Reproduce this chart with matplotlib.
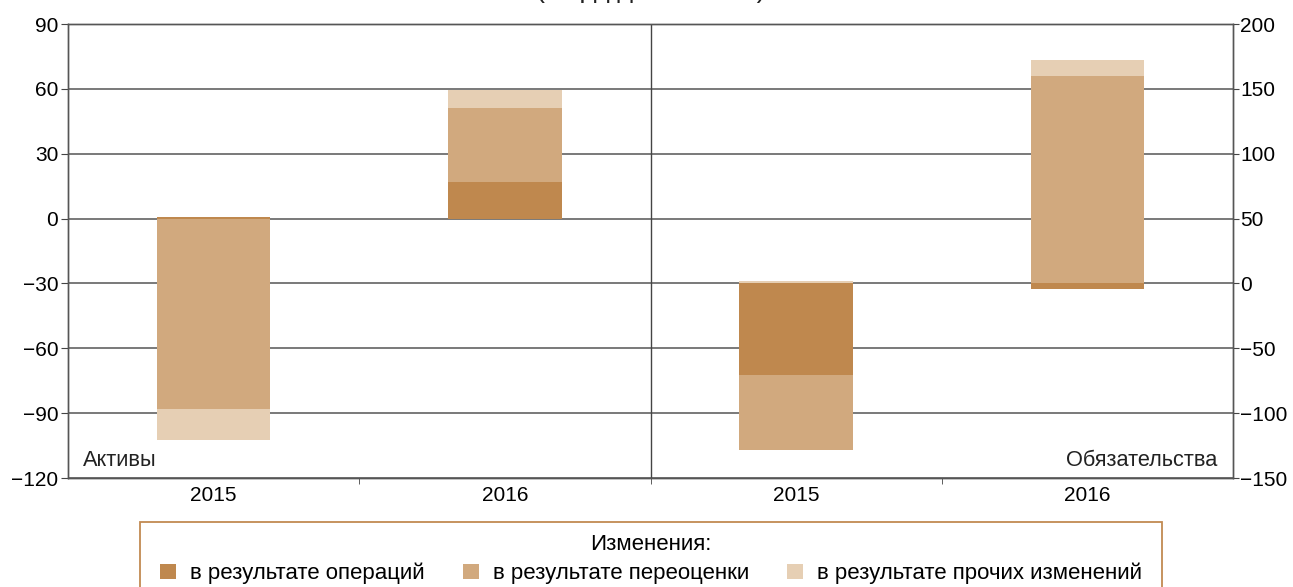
import matplotlib
matplotlib.use("Agg")
import matplotlib.pyplot as plt
from matplotlib.patches import Rectangle
import numpy as np

plt.rcParams['font.family'] = ['Liberation Sans', 'DejaVu Sans']

# Данные (млрд долл. США)
years = ["2015", "2016"]
aktivy_oper = [0.7, 16.9]
aktivy_pereoc = [-88.0, 34.3]
aktivy_proch = [-14.3, 8.2]

obyaz_oper = [-70.4, -4.1]
obyaz_pereoc = [-57.8, 159.9]
obyaz_proch = [1.5, 12.3]

labels = ["в результате операций", "в результате переоценки", "в результате прочих изменений"]
colors = ["#BF884E", "#D1A97E", "#E6CFB4"]


def stacked(ax, x, series, width):
    # положительные части вверх от нуля, отрицательные вниз
    pos = np.zeros(len(x))
    neg = np.zeros(len(x))
    for vals, col, lab in zip(series, colors, labels):
        vals = np.array(vals)
        bottom = np.where(vals >= 0, pos, neg)
        ax.bar(x, vals, width, bottom=bottom, color=col, label=lab, zorder=3)
        pos = pos + np.where(vals >= 0, vals, 0)
        neg = neg + np.where(vals < 0, vals, 0)


fig = plt.figure(figsize=(12.93, 5.87), dpi=100)
ax = fig.add_axes([68/1293, 1-478/587, (1233-68)/1293, (478-24)/587])
ax2 = ax.twinx()

bar_w = 0.39
stacked(ax, np.array([0, 1]), [aktivy_oper, aktivy_pereoc, aktivy_proch], bar_w)
stacked(ax2, np.array([2, 3]), [obyaz_oper, obyaz_pereoc, obyaz_proch], bar_w)

ax.set_xlim(-0.5, 3.5)
ax.set_ylim(-120, 90)
ax.set_yticks(np.arange(-120, 91, 30))
ax2.set_ylim(-150, 200)
ax2.set_yticks(np.arange(-150, 201, 50))

ax.set_xticks(np.arange(4))
ax.set_xticklabels(years + years)
ax.set_xticks([0.5, 1.5, 2.5], minor=True)
ax.tick_params(axis='x', which='major', length=0, labelsize=15, pad=6)
ax.tick_params(axis='x', which='minor', length=4, color='#444444')
ax.tick_params(axis='y', labelsize=15, length=5, color='#444444', pad=2)
ax2.tick_params(axis='y', labelsize=15, length=4, color='#444444', pad=1)

ax.grid(axis='y', color='#555555', linewidth=1.1, zorder=1)
ax.set_axisbelow(True)
ax.axvline(1.5, color='#444444', linewidth=1, zorder=2)

for a in (ax, ax2):
    for s in a.spines.values():
        s.set_color('#555555')
        s.set_linewidth(1)

ax.text(15/1165, 12/454, "Активы", transform=ax.transAxes, fontsize=15.7,
        ha='left', va='baseline', color='#222222')
ax2.text(1 - 16/1165, 12/454, "Обязательства", transform=ax2.transAxes, fontsize=15.7,
         ha='right', va='baseline', color='#222222')

# заголовок обрезан сверху, видна только нижняя кромка
fig.text(651/1293, 1.0 + 3/587, "(млрд долл. США)", fontsize=19.5, ha='center', va='baseline',
         color='#222222')

# легенда: рамка 140..1162 px, верх на 522 px
pad_px = 7.5
handles, labs = ax.get_legend_handles_labels()
leg = fig.legend(handles, labs, loc='upper left', ncol=3, mode='expand',
                 bbox_to_anchor=((140 + pad_px)/1293, 1-522/587, (1022 - 2*pad_px)/1293, 0),
                 borderaxespad=0,
                 title="Изменения:", title_fontsize=16, fontsize=16,
                 frameon=False,
                 handlelength=0.72, handleheight=0.72, handletextpad=0.64,
                 borderpad=0.55, labelspacing=0.4)
leg._legend_handle_box.pad = pad_px * 0.72
leg._legend_box.sep = 0

# рамка легенды (уходит за нижний край)
fig.patches.append(Rectangle((140/1293, -0.05), 1022/1293, 0.05 + 1 - 522/587,
                             transform=fig.transFigure, fill=False,
                             edgecolor='#C28A52', linewidth=1.3))

fig.savefig("out.png", dpi=100)
